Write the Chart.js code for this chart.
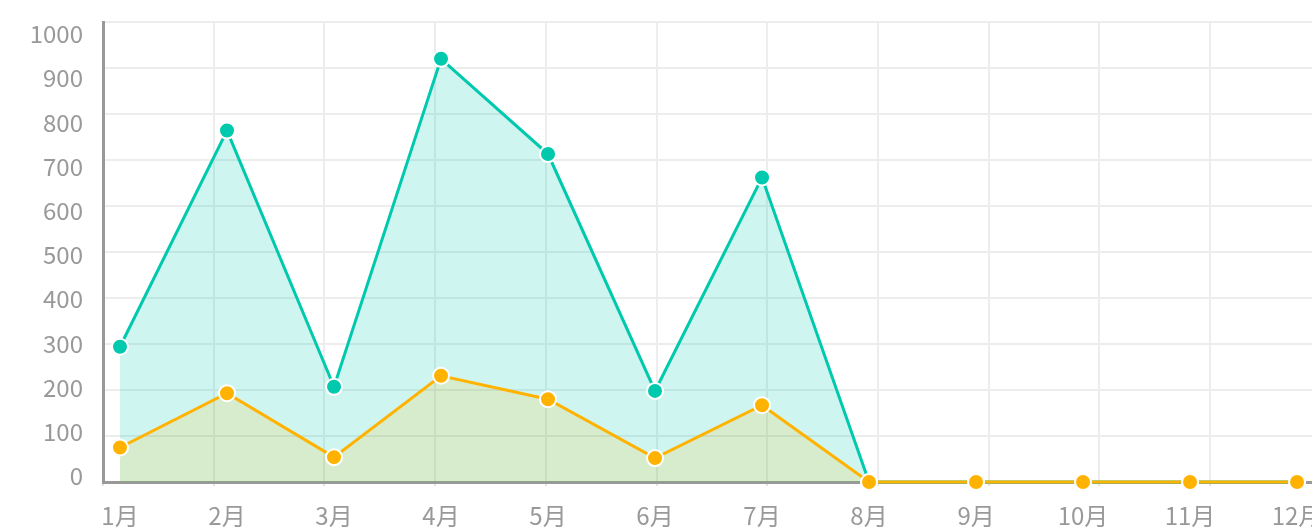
<!DOCTYPE html>
<html>
<head>
<meta charset="utf-8">
<script src="https://cdn.jsdelivr.net/npm/chart.js@4/dist/chart.umd.min.js"></script>
<style>
  html, body { margin: 0; padding: 0; background: #fff; overflow: hidden; }
  #wrap { position: relative; width: 1340px; height: 532px; }
</style>
</head>
<body>
<div id="wrap"><canvas id="c"></canvas></div>
<script>
const months = ['1月','2月','3月','4月','5月','6月','7月','8月','9月','10月','11月','12月'];
const totalValues = [294, 764, 207, 920, 713, 198, 662, 0, 0, 0, 0, 0];
const partValues  = [75, 193, 54, 231, 180, 52, 167, 0, 0, 0, 0, 0];
const yTickValues = [0, 100, 200, 300, 400, 500, 600, 700, 800, 900, 1000];

const GREEN = '#00c9ae';
const ORANGE = '#ffb300';
const FONT = { family: '"Noto Sans CJK SC", "Noto Sans", sans-serif', size: 24 };

const toPoints = arr => arr.map((v, i) => ({ x: i, y: v }));
const noPad = s => { s.paddingTop = 0; s.paddingBottom = 0; s.paddingLeft = 0; s.paddingRight = 0; };

new Chart(document.getElementById('c'), {
  type: 'line',
  data: {
    datasets: [
      {
        data: toPoints(partValues),
        borderColor: ORANGE,
        backgroundColor: 'rgba(255,179,0,0.15)',
        pointBackgroundColor: ORANGE,
        pointBorderColor: '#fff',
        fill: 'origin',
        clip: false,
        xAxisID: 'x', yAxisID: 'y'
      },
      {
        data: toPoints(totalValues),
        borderColor: GREEN,
        backgroundColor: 'rgba(0,201,174,0.19)',
        pointBackgroundColor: GREEN,
        pointBorderColor: '#fff',
        fill: 'origin',
        clip: false,
        xAxisID: 'x', yAxisID: 'y'
      }
    ]
  },
  options: {
    responsive: true,
    maintainAspectRatio: false,
    animation: false,
    layout: { padding: { top: 22, right: 19.3, left: 0, bottom: 0 } },
    elements: {
      line: { tension: 0, borderWidth: 3 },
      point: { radius: 8, borderWidth: 2, hoverRadius: 8 }
    },
    plugins: { legend: { display: false }, tooltip: { enabled: false } },
    scales: {
      xg: {
        type: 'linear', position: 'bottom', weight: 0,
        min: 0, max: 11,
        afterBuildTicks: s => { s.ticks = [0,1,2,3,4,5,6,7,8,9,10,11].map(v => ({ value: v })); },
        afterFit: s => { s.height = 0; noPad(s); },
        ticks: { display: false },
        grid: { color: '#ededed', lineWidth: 2, drawTicks: true, tickLength: 4, tickColor: '#e3e3e3' },
        border: { display: true, color: '#999', width: 3 }
      },
      x: {
        type: 'linear', position: 'bottom', weight: 1,
        min: -0.1589, max: 11.221,
        afterBuildTicks: s => { s.ticks = months.map((m, i) => ({ value: i })); },
        afterFit: s => { s.height = 50; noPad(s); },
        ticks: {
          font: FONT, color: '#999', padding: 19.5, maxRotation: 0, autoSkip: false,
          callback: v => months[v]
        },
        grid: { display: false, drawTicks: false },
        border: { display: false }
      },
      y: {
        type: 'linear', position: 'left', weight: 0,
        min: 0, max: 1000,
        afterBuildTicks: s => { s.ticks = yTickValues.map(v => ({ value: v })); },
        afterFit: s => { s.width = 0; noPad(s); },
        ticks: { display: false },
        grid: { color: '#ededed', lineWidth: 2, drawTicks: false },
        border: { display: true, color: '#999', width: 3 }
      },
      yLab: {
        type: 'linear', position: 'left', weight: 1,
        min: -13.57, max: 1027.1,
        afterBuildTicks: s => { s.ticks = yTickValues.map(v => ({ value: v })); },
        afterFit: s => { s.width = 103; noPad(s); },
        ticks: { font: FONT, color: '#999', padding: 20, callback: v => String(v) },
        grid: { display: false, drawTicks: false },
        border: { display: false }
      }
    }
  }
});
</script>
</body>
</html>
